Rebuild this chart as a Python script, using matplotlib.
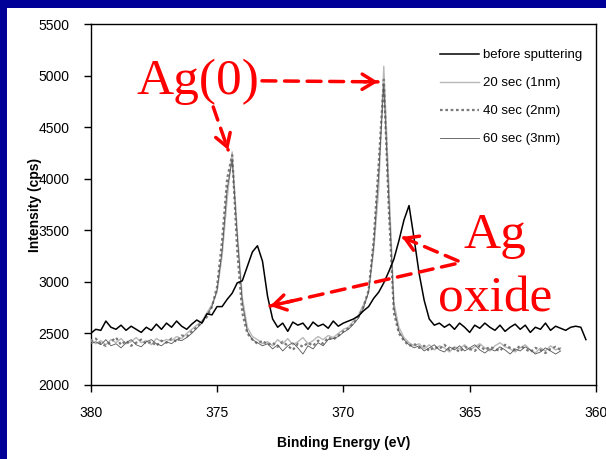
import numpy as np
import matplotlib.pyplot as plt
from matplotlib.patches import Rectangle

# energy step of the scans (eV)
step = 0.2

before = [2500, 2540, 2530, 2620, 2560, 2540, 2580, 2530, 2570, 2540,
          2510, 2560, 2530, 2590, 2540, 2600, 2560, 2620, 2570, 2540,
          2590, 2630, 2600, 2690, 2680, 2760, 2760, 2830, 2890, 2990,
          3010, 3150, 3290, 3350, 3200, 2860, 2640, 2560, 2600, 2520,
          2610, 2580, 2600, 2540, 2610, 2570, 2590, 2550, 2620, 2570,
          2600, 2620, 2640, 2670, 2720, 2760, 2840, 2900, 2990, 3100,
          3220, 3400, 3600, 3740, 3420, 3080, 2820, 2640, 2580, 2600,
          2560, 2590, 2540, 2600, 2560, 2510, 2580, 2550, 2600, 2560,
          2530, 2580, 2520, 2560, 2590, 2540, 2580, 2510, 2560, 2540,
          2600, 2530, 2570, 2550, 2530, 2560, 2570, 2560, 2440]

sec20 = [2440, 2400, 2430, 2390, 2440, 2410, 2450, 2400, 2420, 2460,
         2410, 2430, 2390, 2450, 2420, 2440, 2430, 2470, 2450, 2500,
         2540, 2580, 2620, 2700, 2780, 2900, 3250, 3800, 4260, 3500,
         2850, 2560, 2470, 2440, 2400, 2420, 2380, 2440, 2400, 2450,
         2390, 2420, 2460, 2400, 2430, 2470, 2440, 2480, 2460, 2500,
         2540, 2560, 2620, 2680, 2780, 2900, 3300, 3900, 5090, 3950,
         2800, 2560, 2460, 2410, 2380, 2400, 2350, 2390, 2340, 2380,
         2360, 2320, 2370, 2350, 2390, 2340, 2370, 2400, 2360, 2330,
         2380, 2410, 2370, 2350, 2320, 2360, 2390, 2340, 2310, 2360,
         2330, 2380, 2340, 2360]

sec40 = [2420, 2450, 2400, 2380, 2420, 2460, 2390, 2430, 2380, 2410,
         2440, 2400, 2420, 2380, 2430, 2410, 2450, 2420, 2480, 2470,
         2520, 2560, 2610, 2660, 2760, 2950, 3400, 4000, 4230, 3300,
         2700, 2500, 2440, 2400, 2430, 2390, 2410, 2370, 2420, 2380,
         2340, 2400, 2370, 2410, 2380, 2430, 2400, 2460, 2440, 2480,
         2520, 2550, 2600, 2660, 2760, 2920, 3400, 4150, 4960, 3700,
         2700, 2500, 2430, 2380, 2400, 2360, 2380, 2330, 2370, 2350,
         2390, 2340, 2360, 2320, 2370, 2350, 2330, 2380, 2340, 2370,
         2350, 2330, 2390, 2360, 2340, 2380, 2350, 2320, 2360, 2340,
         2310, 2350, 2370, 2340]

sec60 = [2400, 2420, 2390, 2440, 2380, 2400, 2360, 2410, 2440, 2390,
         2370, 2420, 2440, 2400, 2380, 2420, 2400, 2440, 2430, 2460,
         2500, 2550, 2600, 2680, 2760, 2920, 3300, 3900, 4180, 3450,
         2800, 2520, 2440, 2410, 2380, 2400, 2350, 2390, 2330, 2380,
         2410, 2360, 2300, 2380, 2350, 2410, 2380, 2440, 2450, 2470,
         2510, 2540, 2590, 2650, 2750, 2900, 3350, 4050, 4920, 3800,
         2750, 2520, 2440, 2390, 2360, 2380, 2330, 2360, 2390, 2340,
         2320, 2370, 2340, 2380, 2330, 2360, 2390, 2340, 2310, 2350,
         2330, 2370, 2340, 2300, 2350, 2330, 2370, 2340, 2300, 2320,
         2360, 2330, 2300, 2330]

labels = ['before sputtering', '20 sec (1nm)', '40 sec (2nm)', '60 sec (3nm)']

def energy(vals):
    return 380.0 - step*np.arange(len(vals))

plt.rcParams['font.family'] = ['Liberation Sans', 'DejaVu Sans']

fig = plt.figure(figsize=(6.06, 4.59), dpi=100, facecolor='#000099')
fig.patches.append(Rectangle((7/606, 0), 1, 1 - 8/459, transform=fig.transFigure,
                             facecolor='white', edgecolor='none', zorder=-10))
ax = fig.add_axes([90.7/606, 74/459, 505.3/606, 361/459])
ax.set_zorder(1)

ax.plot(energy(before), before, color='black', lw=1.1, label=labels[0], zorder=5)
ax.plot(energy(sec20), sec20, color='#b8b8b8', lw=1.0, label=labels[1], zorder=3)
ax.plot(energy(sec40), sec40, color='#7a7a7a', lw=1.6, ls=(0, (1.2, 1.2)), label=labels[2], zorder=4)
ax.plot(energy(sec60), sec60, color='#555555', lw=0.6, label=labels[3], zorder=4)

ax.set_xlim(380, 360)
ax.set_ylim(2000, 5500)
ax.set_xticks([380, 375, 370, 365, 360])
ax.set_yticks(range(2000, 5501, 500))
ax.tick_params(direction='out', length=5, width=1, labelsize=10, pad=10)
for s in ax.spines.values():
    s.set_linewidth(1)
ax.set_xlabel('Binding Energy (eV)', fontsize=10, fontweight='bold', labelpad=12)
ax.set_ylabel('Intensity (cps)', fontsize=10, fontweight='bold')
ax.yaxis.set_label_coords(-0.097, 0.5)

ax.legend(loc='upper left', bbox_to_anchor=(0.691, 0.931), frameon=False,
          fontsize=9.5, handlelength=3.0, handletextpad=0.3, labelspacing=1.2,
          borderpad=0, borderaxespad=0)

# red annotations
red = '#ff0000'
tfont = dict(family=['Liberation Serif', 'DejaVu Serif'], size=37, color=red)
ax.text(375.75, 4822, 'Ag(0)', ha='center', va='baseline', **tfont)
ax.text(364.0, 3329, 'Ag', ha='center', va='baseline', **tfont)
ax.text(364.0, 2708, 'oxide', ha='center', va='baseline', **tfont)

arrows = [((373.22, 4949), (368.63, 4939)),
          ((375.15, 4696), (374.56, 4279)),
          ((365.46, 3203), (367.68, 3435)),
          ((365.58, 3174), (372.9, 2766))]
for (x0, y0), (x1, y1) in arrows:
    ax.annotate('', xy=(x1, y1), xytext=(x0, y0),
                arrowprops=dict(arrowstyle='-', ls=(0, (4, 2.5)), lw=2.5, color=red,
                                shrinkA=0, shrinkB=0), zorder=6)
    ax.annotate('', xy=(x1, y1), xytext=(x1 + 0.12*(x0 - x1), y1 + 0.12*(y0 - y1)),
                arrowprops=dict(arrowstyle='->,head_length=0.9,head_width=0.55', lw=2.5,
                                color=red, shrinkA=0, shrinkB=0), zorder=6)

fig.savefig('out.png', dpi=100, facecolor=fig.get_facecolor())
